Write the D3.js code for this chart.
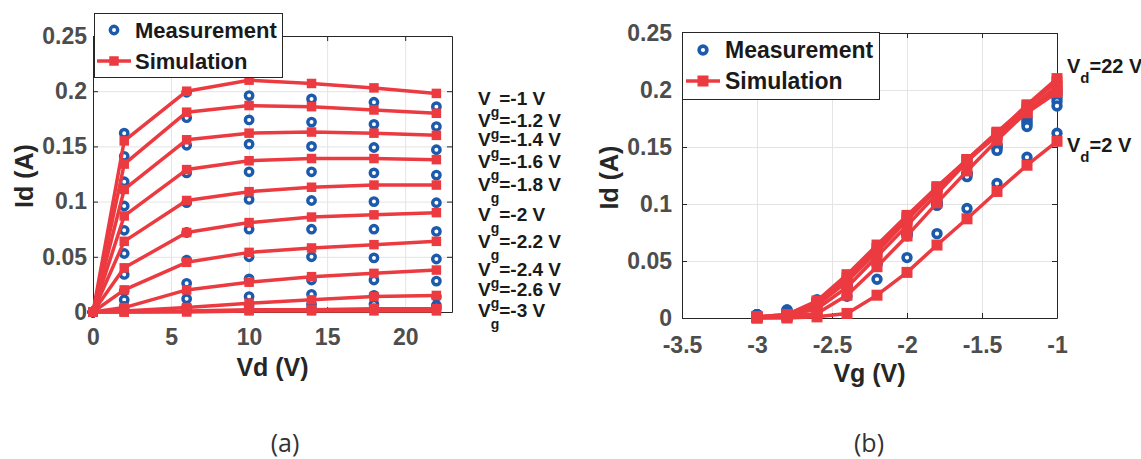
<!DOCTYPE html>
<html>
<head>
<meta charset="utf-8">
<script src="https://cdn.jsdelivr.net/npm/d3@7"></script>
<style>
  html, body { margin: 0; padding: 0; background: #fff; }
  svg { display: block; font-family: "Liberation Sans", Arial, sans-serif; }
</style>
</head>
<body>
<svg id="chart" width="1141" height="459"></svg>
<script>
// Drain and gate voltages (V)
const vd = [2, 6, 10, 14, 18, 22];
const vg = [-1, -1.2, -1.4, -1.6, -1.8, -2, -2.2, -2.4, -2.6, -2.8, -3];

// Id (A), one row per gate voltage, one column per drain voltage
const simId = [
  [0.155, 0.200, 0.210, 0.207, 0.203, 0.198],
  [0.134, 0.181, 0.187, 0.186, 0.183, 0.180],
  [0.111, 0.156, 0.162, 0.163, 0.162, 0.160],
  [0.087, 0.129, 0.137, 0.139, 0.139, 0.138],
  [0.064, 0.101, 0.109, 0.113, 0.115, 0.115],
  [0.040, 0.072, 0.081, 0.086, 0.088, 0.090],
  [0.020, 0.045, 0.054, 0.058, 0.061, 0.064],
  [0.004, 0.020, 0.027, 0.032, 0.035, 0.038],
  [0.001, 0.004, 0.008, 0.011, 0.014, 0.015],
  [0.000, 0.001, 0.002, 0.002, 0.003, 0.003],
  [0.000, 0.000, 0.001, 0.001, 0.001, 0.001]
];
const measId = [
  [0.162, 0.199, 0.196, 0.193, 0.190, 0.186],
  [0.141, 0.176, 0.174, 0.172, 0.170, 0.168],
  [0.118, 0.151, 0.152, 0.150, 0.149, 0.147],
  [0.096, 0.126, 0.127, 0.127, 0.126, 0.124],
  [0.074, 0.099, 0.102, 0.101, 0.100, 0.099],
  [0.053, 0.072, 0.075, 0.075, 0.075, 0.073],
  [0.034, 0.047, 0.050, 0.050, 0.049, 0.048],
  [0.019, 0.026, 0.030, 0.029, 0.029, 0.028],
  [0.011, 0.012, 0.014, 0.016, 0.015, 0.014],
  [0.005, 0.005, 0.006, 0.007, 0.007, 0.006],
  [0.002, 0.002, 0.003, 0.003, 0.003, 0.003]
];

// curve labels (text and the Id value they sit at)
const vgLabelText = ['-1', '-1.2', '-1.4', '-1.6', '-1.8', '-2', '-2.2', '-2.4', '-2.6', '-3'];
const vgLabelAt = [0.194, 0.174, 0.157, 0.137, 0.116, 0.089, 0.064, 0.039, 0.021, 0.002];
const vdLabelText = ['22', '2'];
const vdLabelAt = [0.221, 0.152];

// ticks
const yTicks = [0, 0.05, 0.1, 0.15, 0.2, 0.25];
const yTickText = ['0', '0.05', '0.1', '0.15', '0.2', '0.25'];
const xTicksA = [0, 5, 10, 15, 20];
const xTicksB = [-3.5, -3, -2.5, -2, -1.5, -1];
const xTickTextB = ['-3.5', '-3', '-2.5', '-2', '-1.5', '-1'];

const RED = '#ec3a41';
const BLUE = '#1c5aab';
const AXIS = '#262626';
const TICK = '#4d4d4d';
const GRID = '#e4e4e4';

const svg = d3.select('#chart');

function drawPanel(p) {
  const g = svg.append('g');
  const [xl, xr] = p.x.range();
  const [yb, yt] = p.y.range();

  // grid
  g.append('g').selectAll('line').data(p.xTicks).join('line')
    .attr('x1', d => p.x(d) + 0.5).attr('x2', d => p.x(d) + 0.5)
    .attr('y1', yb).attr('y2', yt)
    .attr('stroke', GRID).attr('stroke-width', 1);
  g.append('g').selectAll('line').data(yTicks).join('line')
    .attr('x1', xl).attr('x2', xr)
    .attr('y1', d => p.y(d) + 0.5).attr('y2', d => p.y(d) + 0.5)
    .attr('stroke', GRID).attr('stroke-width', 1);

  // axes, ticks pointing inward on all four sides
  const styleAxis = sel => {
    sel.attr('font-family', null).attr('font-size', null);
    sel.select('.domain').attr('stroke', AXIS);
    sel.selectAll('.tick line').attr('stroke', AXIS);
    sel.selectAll('.tick text')
      .attr('fill', TICK)
      .attr('font-size', 23)
      .attr('font-weight', 'bold');
  };
  g.append('g').attr('transform', `translate(0,${yb})`)
    .call(d3.axisBottom(p.x).tickValues(p.xTicks).tickFormat((d, i) => p.xTickText[i])
      .tickSizeInner(-5).tickSizeOuter(0).tickPadding(p.xPad))
    .call(styleAxis);
  g.append('g').attr('transform', `translate(0,${yt})`)
    .call(d3.axisTop(p.x).tickValues(p.xTicks).tickFormat('')
      .tickSizeInner(-5).tickSizeOuter(0))
    .call(styleAxis);
  g.append('g').attr('transform', `translate(${xl},0)`)
    .call(d3.axisLeft(p.y).tickValues(yTicks).tickFormat((d, i) => yTickText[i])
      .tickSizeInner(-5).tickSizeOuter(0).tickPadding(p.yPad))
    .call(styleAxis);
  g.append('g').attr('transform', `translate(${xr},0)`)
    .call(d3.axisRight(p.y).tickValues(yTicks).tickFormat('')
      .tickSizeInner(-5).tickSizeOuter(0))
    .call(styleAxis);

  // axis titles
  g.append('text')
    .attr('x', (xl + xr) / 2).attr('y', yb + p.xTitleGap)
    .attr('text-anchor', 'middle')
    .attr('font-size', 25).attr('font-weight', 'bold').attr('fill', AXIS)
    .text(p.xTitle);
  g.append('text')
    .attr('transform', `translate(${p.yTitleX},${(yb + yt) / 2 + 2}) rotate(-90)`)
    .attr('text-anchor', 'middle')
    .attr('font-size', 25).attr('font-weight', 'bold').attr('fill', AXIS)
    .text('Id (A)');

  // measurement circles first, simulation lines and squares on top
  const meas = g.append('g');
  p.series.forEach(s => {
    meas.selectAll(null).data(s.meas).join('circle')
      .attr('cx', d => p.x(d[0])).attr('cy', d => p.y(d[1]))
      .attr('r', p.circleR)
      .attr('fill', '#fff').attr('stroke', BLUE).attr('stroke-width', p.circleW);
  });
  const line = d3.line().x(d => p.x(d[0])).y(d => p.y(d[1]));
  const ms = p.square;
  p.series.forEach(s => {
    const sg = g.append('g');
    sg.append('path').attr('d', line(s.sim))
      .attr('fill', 'none').attr('stroke', RED)
      .attr('stroke-width', 3.5).attr('stroke-linejoin', 'round');
    sg.selectAll('rect').data(s.sim).join('rect')
      .attr('x', d => p.x(d[0]) - ms / 2).attr('y', d => p.y(d[1]) - ms / 2)
      .attr('width', ms).attr('height', ms)
      .attr('fill', RED);
  });

  // legend
  const L = p.legend;
  const lg = g.append('g').attr('transform', `translate(${L.x},${L.y})`);
  lg.append('rect')
    .attr('x', 0.5).attr('y', 0.5).attr('width', L.w).attr('height', L.h)
    .attr('fill', '#fff').attr('stroke', AXIS).attr('stroke-width', 1);
  lg.append('circle')
    .attr('cx', L.mx).attr('cy', L.row1)
    .attr('r', p.circleR).attr('fill', '#fff')
    .attr('stroke', BLUE).attr('stroke-width', p.circleW);
  lg.append('line')
    .attr('x1', L.mx - 17).attr('x2', L.mx + 17)
    .attr('y1', L.row2).attr('y2', L.row2)
    .attr('stroke', RED).attr('stroke-width', 3.5);
  lg.append('rect')
    .attr('x', L.mx - ms / 2).attr('y', L.row2 - ms / 2)
    .attr('width', ms).attr('height', ms).attr('fill', RED);
  [['Measurement', L.row1], ['Simulation', L.row2]].forEach(([t, ry]) => {
    lg.append('text')
      .attr('x', L.tx).attr('y', ry + L.fs * 0.36)
      .attr('font-size', L.fs).attr('font-weight', 'bold').attr('fill', '#1a1a1a')
      .text(t);
  });

  return g;
}

// (a) Id vs Vd, one curve per gate voltage
const xA = d3.scaleLinear().domain([0, 23]).range([93, 452]);
const yA = d3.scaleLinear().domain([0, 0.25]).range([312, 36]);
const seriesA = vg.map((v, i) => ({
  sim: [[0, 0], ...vd.map((d, j) => [d, simId[i][j]])],
  meas: [[0, 0], ...vd.map((d, j) => [d, measId[i][j]])]
}));
drawPanel({
  x: xA, y: yA, xTicks: xTicksA, xTickText: xTicksA.map(String),
  xPad: 17, yPad: 6, xTitle: 'Vd (V)', xTitleGap: 64, yTitleX: 33,
  series: seriesA, circleR: 3.7, circleW: 3.4, square: 9.5,
  legend: { x: 94, y: 13, w: 188, h: 64, mx: 20, row1: 17, row2: 48, tx: 41, fs: 22 }
});

const vgLab = svg.append('g').attr('font-weight', 'bold').attr('fill', '#1a1a1a');
vgLabelText.forEach((t, i) => {
  const txt = vgLab.append('text')
    .attr('x', 478).attr('y', yA(vgLabelAt[i]) + 7)
    .attr('font-size', 19);
  txt.append('tspan').text('V');
  txt.append('tspan').attr('dy', 12).attr('font-size', 14).text('g');
  txt.append('tspan').attr('dy', -12).text(`=${t} V`);
});

// (b) Id vs Vg, one curve per drain voltage
const xB = d3.scaleLinear().domain([-3.5, -1]).range([682, 1057]);
const yB = d3.scaleLinear().domain([0, 0.25]).range([318, 33]);
const seriesB = vd.map((d, j) => ({
  sim: vg.map((v, i) => [v, simId[i][j]]),
  meas: vg.map((v, i) => [v, measId[i][j]])
}));
drawPanel({
  x: xB, y: yB, xTicks: xTicksB, xTickText: xTickTextB,
  xPad: 19, yPad: 10, xTitle: 'Vg (V)', xTitleGap: 64, yTitleX: 618,
  series: seriesB, circleR: 3.9, circleW: 3.6, square: 11,
  legend: { x: 682, y: 32, w: 197, h: 67, mx: 21, row1: 18, row2: 49, tx: 43, fs: 23 }
});

const vdLab = svg.append('g').attr('font-weight', 'bold').attr('fill', '#1a1a1a');
vdLabelText.forEach((t, i) => {
  const txt = vdLab.append('text')
    .attr('x', 1067).attr('y', yB(vdLabelAt[i]) + 7)
    .attr('font-size', 20);
  txt.append('tspan').text('V');
  txt.append('tspan').attr('dy', 10).attr('font-size', 15).text('d');
  txt.append('tspan').attr('dy', -10).text(`=${t} V`);
});

// panel captions
[['(a)', 285], ['(b)', 869]].forEach(([t, cx]) => {
  svg.append('text')
    .attr('x', cx).attr('y', 452)
    .attr('text-anchor', 'middle')
    .attr('font-family', '"Open Sans", sans-serif')
    .attr('font-size', 25).attr('fill', '#333')
    .text(t);
});
</script>
</body>
</html>
